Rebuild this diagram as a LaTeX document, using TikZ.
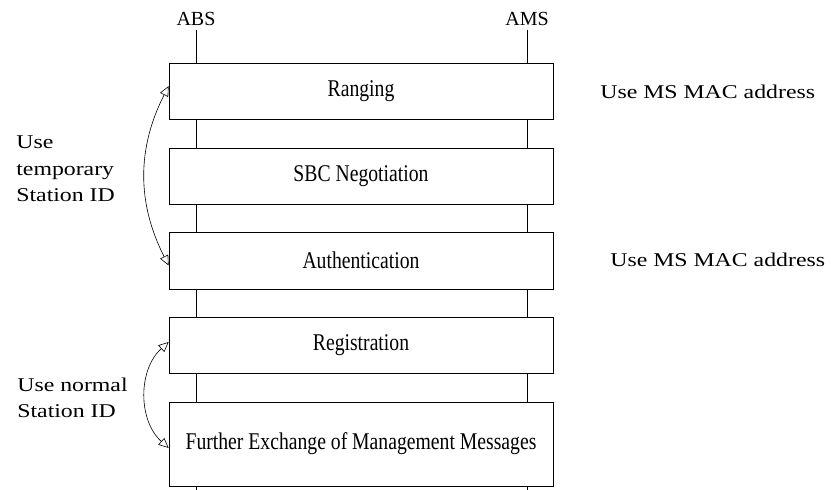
\documentclass[tikz,border=0pt]{standalone}
\usepackage{fontspec}
\setmainfont{Liberation Serif}
\newfontfamily\sidefont[FakeStretch=1.22]{Liberation Serif}
\newfontfamily\boxfont[FakeStretch=0.82]{Liberation Serif}
\usetikzlibrary{arrows.meta,positioning}
\tikzset{
  phase/.style={draw, fill=white, minimum width=384pt, minimum height=56pt, inner sep=0pt, font=\boxfont\fontsize{24}{26}\selectfont},
  entity/.style={font=\fontsize{20}{22}\selectfont, inner sep=0pt},
  note/.style={font=\sidefont\fontsize{19.5}{26.5}\selectfont, align=left, inner sep=0pt},
  idarrow/.style={{Triangle[open,length=10pt,width=9pt]}-{Triangle[open,length=10pt,width=9pt]}, line width=0.6pt}
}
\begin{document}
\begin{tikzpicture}[x=1pt, y=-1pt, line width=0.7pt]
    \useasboundingbox (0,0) rectangle (831,490);
    % entities
    \node[entity] (abs) at (196,19) {ABS};
    \node[entity] (ams) at (527,19) {AMS};
    \coordinate (absend) at (196,490);
    \coordinate (amsend) at (527,490);
    % lifelines
    \draw (abs.south) ++(0,4) -- (absend);
    \draw (ams.south) ++(0,4) -- (amsend);
    % phases
    \node[phase] (ranging) at (361,91) {Ranging};
    \node[phase] (sbc) at (361,176) {SBC Negotiation};
    \node[phase, minimum height=57pt] (auth) at (361,260.5) {Authentication};
    \node[phase] (reg) at (361,345) {Registration};
    \node[phase, minimum height=84pt] (further) at (361,444) {Further Exchange of Management Messages};
    % right notes
    \node[note, anchor=west] (mac1) at (600,92) {Use MS MAC address};
    \node[note, anchor=west] (mac2) at (610,260) {Use MS MAC address};
    % left notes
    \node[note, anchor=west] (tempid) at (16,169) {Use\\temporary\\Station ID};
    \node[note, anchor=west] (normid) at (17,398) {Use normal\\Station ID};
    % arrows
    \draw[idarrow] ([yshift=5pt]ranging.west) to[bend right=27] ([yshift=-5pt]auth.west);
    \draw[idarrow] ([yshift=3pt]reg.west) to[bend right=48] ([yshift=-4pt]further.west);
\end{tikzpicture}
\end{document}
